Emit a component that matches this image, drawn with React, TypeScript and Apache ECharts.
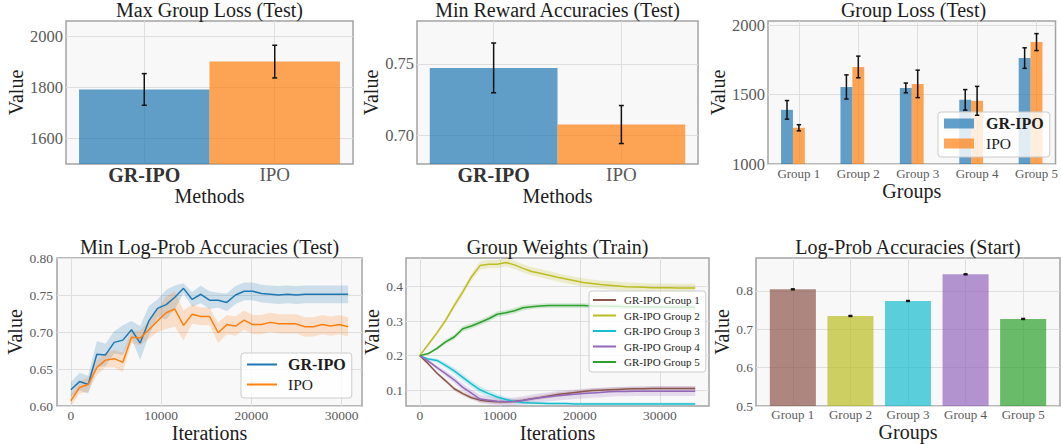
import React, { useEffect, useRef } from 'react';
import * as echarts from 'echarts';

const FONT = "'Liberation Serif', 'DejaVu Serif', serif";
const INK = '#1c1c1c';
const TICK_INK = '#5a5a5a';
const GRID_LINE = '#dedede';
const FRAME = '#a3a3a3';
const PLOT_BG = '#f8f8f8';

const BLUE = '#1f77b4';
const ORANGE = '#ff7f0e';
const GREEN = '#2ca02c';
const PURPLE = '#9467bd';
const BROWN = '#8c564b';
const OLIVE = '#bcbd22';
const CYAN = '#17becf';

// ---------- Panel 1: Max Group Loss (Test)
const methods = ['GR-IPO', 'IPO'];
const maxLossMean = [1792, 1901];
const maxLossErr = [62, 64];
const maxLossTicks = [1600, 1800, 2000];

// ---------- Panel 2: Min Reward Accuracies (Test)
const minRewardMean = [0.7472, 0.7076];
const minRewardErr = [0.0174, 0.0133];
const minRewardTicks = [0.7, 0.75];

// ---------- Panel 3: Group Loss (Test)
const groups = ['Group 1', 'Group 2', 'Group 3', 'Group 4', 'Group 5'];
const groupLossGR = [1390, 1555, 1548, 1462, 1763];
const groupLossGRErr = [67, 87, 35, 74, 74];
const groupLossIPO = [1261, 1699, 1577, 1455, 1878];
const groupLossIPOErr = [22, 78, 99, 104, 61];
const groupLossTicks = [1000, 1500, 2000];

// ---------- Panel 4: Min Log-Prob Accuracies (Test)
const evalIters = [0, 960, 1920, 2880, 3840, 4800, 5760, 6720, 7680, 8640, 9600, 10560, 11520, 12480, 13440, 14400, 15360, 16320, 17280, 18240, 19200, 20160, 21120, 22080, 23040, 24000, 24960, 25920, 26880, 27840, 28800, 29760, 30720];
const minLogProbGR = [0.622, 0.633, 0.629, 0.670, 0.669, 0.686, 0.689, 0.703, 0.685, 0.715, 0.732, 0.737, 0.747, 0.759, 0.744, 0.751, 0.743, 0.743, 0.740, 0.750, 0.755, 0.755, 0.752, 0.751, 0.750, 0.751, 0.750, 0.751, 0.751, 0.751, 0.751, 0.751, 0.751];
const minLogProbGRStd = [0.010, 0.012, 0.012, 0.018, 0.015, 0.015, 0.020, 0.012, 0.023, 0.020, 0.012, 0.020, 0.016, 0.007, 0.010, 0.012, 0.012, 0.010, 0.012, 0.012, 0.012, 0.012, 0.012, 0.012, 0.012, 0.012, 0.012, 0.012, 0.012, 0.012, 0.012, 0.012, 0.012];
const minLogProbIPO = [0.607, 0.625, 0.629, 0.652, 0.662, 0.664, 0.659, 0.693, 0.692, 0.703, 0.715, 0.726, 0.731, 0.709, 0.724, 0.721, 0.721, 0.699, 0.710, 0.708, 0.716, 0.710, 0.710, 0.713, 0.711, 0.711, 0.711, 0.707, 0.707, 0.710, 0.708, 0.710, 0.707];
const minLogProbIPOStd = [0.008, 0.008, 0.010, 0.010, 0.010, 0.012, 0.013, 0.008, 0.010, 0.012, 0.015, 0.022, 0.024, 0.020, 0.013, 0.012, 0.012, 0.014, 0.013, 0.013, 0.013, 0.013, 0.013, 0.013, 0.013, 0.013, 0.013, 0.013, 0.013, 0.013, 0.013, 0.013, 0.013];
const minLogProbTicks = [0.6, 0.65, 0.7, 0.75, 0.8];
const evalIterTicks = [0, 10000, 20000, 30000];

// ---------- Panel 5: Group Weights (Train)
const trainIters = [0, 1075, 2150, 3225, 4300, 5375, 6450, 7525, 8600, 9675, 10750, 11825, 12900, 13975, 15050, 16125, 17200, 18275, 19350, 20425, 21500, 22575, 23650, 24725, 25800, 26875, 27950, 29025, 30100, 31175, 32250, 33325, 34400];
const weightG1 = [0.200, 0.176, 0.149, 0.127, 0.104, 0.090, 0.078, 0.071, 0.068, 0.066, 0.066, 0.068, 0.071, 0.075, 0.079, 0.083, 0.087, 0.090, 0.093, 0.096, 0.099, 0.100, 0.101, 0.102, 0.103, 0.104, 0.104, 0.105, 0.105, 0.105, 0.105, 0.105, 0.105];
const weightG1Std = [0, 0.003, 0.004, 0.005, 0.006, 0.006, 0.006, 0.006, 0.006, 0.006, 0.006, 0.006, 0.006, 0.006, 0.006, 0.006, 0.006, 0.006, 0.006, 0.006, 0.006, 0.006, 0.006, 0.006, 0.006, 0.006, 0.006, 0.006, 0.006, 0.006, 0.006, 0.006, 0.006];
const weightG2 = [0.200, 0.233, 0.266, 0.302, 0.345, 0.385, 0.428, 0.461, 0.465, 0.465, 0.470, 0.463, 0.453, 0.444, 0.439, 0.433, 0.427, 0.422, 0.417, 0.412, 0.409, 0.406, 0.404, 0.402, 0.400, 0.399, 0.398, 0.397, 0.397, 0.397, 0.396, 0.396, 0.396];
const weightG2Std = [0, 0.004, 0.006, 0.008, 0.009, 0.010, 0.011, 0.012, 0.012, 0.012, 0.012, 0.012, 0.012, 0.012, 0.012, 0.012, 0.012, 0.012, 0.012, 0.012, 0.012, 0.012, 0.012, 0.012, 0.012, 0.012, 0.012, 0.012, 0.012, 0.012, 0.012, 0.012, 0.012];
const weightG3 = [0.200, 0.190, 0.186, 0.172, 0.156, 0.137, 0.118, 0.101, 0.090, 0.080, 0.073, 0.067, 0.064, 0.063, 0.062, 0.061, 0.061, 0.061, 0.060, 0.060, 0.060, 0.060, 0.060, 0.060, 0.060, 0.060, 0.060, 0.060, 0.060, 0.060, 0.060, 0.060, 0.060];
const weightG3Std = [0, 0.004, 0.006, 0.008, 0.009, 0.010, 0.010, 0.010, 0.009, 0.008, 0.007, 0.006, 0.005, 0.005, 0.004, 0.004, 0.004, 0.004, 0.004, 0.004, 0.004, 0.004, 0.004, 0.004, 0.004, 0.004, 0.004, 0.004, 0.004, 0.004, 0.004, 0.004, 0.004];
const weightG4 = [0.200, 0.184, 0.165, 0.148, 0.130, 0.108, 0.091, 0.074, 0.071, 0.068, 0.066, 0.067, 0.070, 0.074, 0.078, 0.081, 0.084, 0.086, 0.088, 0.090, 0.092, 0.093, 0.095, 0.096, 0.096, 0.097, 0.097, 0.097, 0.097, 0.097, 0.097, 0.097, 0.097];
const weightG4Std = [0, 0.004, 0.006, 0.008, 0.009, 0.010, 0.011, 0.012, 0.012, 0.012, 0.012, 0.012, 0.012, 0.013, 0.013, 0.013, 0.014, 0.014, 0.014, 0.014, 0.014, 0.014, 0.014, 0.014, 0.014, 0.014, 0.014, 0.014, 0.014, 0.014, 0.014, 0.014, 0.014];
const weightG5 = [0.200, 0.206, 0.221, 0.240, 0.254, 0.278, 0.286, 0.296, 0.307, 0.320, 0.324, 0.330, 0.339, 0.342, 0.344, 0.345, 0.345, 0.345, 0.345, 0.345, 0.344, 0.344, 0.343, 0.343, 0.342, 0.342, 0.341, 0.341, 0.341, 0.340, 0.340, 0.340, 0.340];
const weightG5Std = [0, 0.003, 0.005, 0.006, 0.007, 0.008, 0.008, 0.008, 0.008, 0.008, 0.008, 0.008, 0.008, 0.007, 0.007, 0.007, 0.007, 0.007, 0.007, 0.007, 0.007, 0.007, 0.007, 0.007, 0.007, 0.007, 0.007, 0.007, 0.007, 0.007, 0.007, 0.007, 0.007];
const weightTicks = [0.1, 0.2, 0.3, 0.4];
const trainIterTicks = [0, 10000, 20000, 30000];

// ---------- Panel 6: Log-Prob Accuracies (Start)
const startAcc = [0.8043, 0.7348, 0.7739, 0.8435, 0.727];
const startAccErr = [0.0012, 0.0012, 0.0012, 0.0012, 0.0012];
const startAccTicks = [0.5, 0.6, 0.7, 0.8];

function rgba(hex: string, a: number) {
  const n = parseInt(hex.slice(1), 16);
  return `rgba(${(n >> 16) & 255},${(n >> 8) & 255},${n & 255},${a})`;
}

function valAxis(gridIndex: number, min: number, max: number, ticks: number[], formatter: any, o: any) {
  return {
    type: 'value',
    gridIndex,
    min,
    max,
    axisLine: { show: false },
    axisTick: { show: false, customValues: ticks },
    axisLabel: {
      customValues: ticks,
      formatter,
      color: TICK_INK,
      fontFamily: FONT,
      fontSize: o.fontSize,
      margin: o.margin ?? 4,
      rich: o.rich,
    },
    splitLine: { show: true, lineStyle: { color: GRID_LINE, width: 1 } },
    name: o.name,
    nameLocation: 'middle',
    nameGap: o.nameGap,
    nameTextStyle: { fontFamily: FONT, fontSize: 20, color: INK },
  };
}

function bars(name: string, gi: number, xs: number[], ys: number[], width: number, colors: string[], base: number) {
  return {
    type: 'custom',
    name,
    xAxisIndex: gi,
    yAxisIndex: gi,
    clip: true,
    z: 2,
    data: xs.map((x, i) => [x, ys[i]]),
    encode: { x: 0, y: 1 },
    renderItem: (params: any, api: any) => {
      const x = api.value(0);
      const y = api.value(1);
      const tl = api.coord([x - width / 2, y]);
      const br = api.coord([x + width / 2, base]);
      return {
        type: 'rect',
        shape: { x: tl[0], y: tl[1], width: br[0] - tl[0], height: br[1] - tl[1] },
        style: { fill: colors[params.dataIndex % colors.length] },
      };
    },
  };
}

function errorBars(name: string, gi: number, xs: number[], ys: number[], errs: number[], cap: number) {
  return {
    type: 'custom',
    name,
    xAxisIndex: gi,
    yAxisIndex: gi,
    clip: true,
    z: 5,
    silent: true,
    data: xs.map((x, i) => [x, ys[i] - errs[i], ys[i] + errs[i]]),
    encode: { x: 0, y: [1, 2] },
    renderItem: (params: any, api: any) => {
      const x = api.value(0);
      const a = api.coord([x, api.value(1)]);
      const b = api.coord([x, api.value(2)]);
      const st = { stroke: '#111111', lineWidth: 1.5 };
      return {
        type: 'group',
        children: [
          { type: 'line', shape: { x1: a[0], y1: a[1], x2: b[0], y2: b[1] }, style: st },
          { type: 'line', shape: { x1: a[0] - cap, y1: a[1], x2: a[0] + cap, y2: a[1] }, style: st },
          { type: 'line', shape: { x1: b[0] - cap, y1: b[1], x2: b[0] + cap, y2: b[1] }, style: st },
        ],
      };
    },
  };
}

function band(name: string, gi: number, xs: number[], mean: number[], sd: number[], color: string, opacity: number) {
  const rows = xs.map((x, i) => [x, mean[i] - sd[i], mean[i] + sd[i]]);
  return {
    type: 'custom',
    name,
    xAxisIndex: gi,
    yAxisIndex: gi,
    clip: true,
    z: 1,
    silent: true,
    data: rows,
    encode: { x: 0, y: [1, 2] },
    renderItem: (params: any, api: any) => {
      if (params.dataIndex !== 0) return null;
      const top = rows.map((r) => api.coord([r[0], r[2]]));
      const bot = rows.map((r) => api.coord([r[0], r[1]])).reverse();
      return { type: 'polygon', shape: { points: top.concat(bot) }, style: { fill: rgba(color, opacity) } };
    },
  };
}

function line(name: string, gi: number, xs: number[], ys: number[], color: string) {
  return {
    type: 'line',
    name,
    xAxisIndex: gi,
    yAxisIndex: gi,
    data: xs.map((x, i) => [x, ys[i]]),
    showSymbol: false,
    symbol: 'none',
    clip: true,
    z: 3,
    lineStyle: { color, width: 1.5 },
    itemStyle: { color },
  };
}

function buildOption() {
  const gridBoxes = [
    { left: 66, top: 21, width: 287, height: 143 },
    { left: 417, top: 21, width: 281, height: 143 },
    { left: 768, top: 21, width: 291, height: 143 },
    { left: 57, top: 258, width: 305, height: 148 },
    { left: 406, top: 258, width: 303, height: 148 },
    { left: 756, top: 258, width: 304, height: 148 },
  ];
  const grid = gridBoxes.map((g) => ({
    ...g,
    show: true,
    backgroundColor: PLOT_BG,
    borderColor: FRAME,
    borderWidth: 1.5,
    containLabel: false,
  }));

  const methodRich = { b: { fontFamily: FONT, fontSize: 20, fontWeight: 'bold', color: '#333333' } };
  const methodFmt = (v: number) => {
    const m = methods[Math.round(v)];
    return m === 'GR-IPO' ? '{b|' + m + '}' : m;
  };
  const groupFmt = (v: number) => groups[Math.round(v)];
  const intFmt = (v: number) => String(Math.round(v));

  const methodPos = methods.map((_, i) => i);
  const groupPos = groups.map((_, i) => i);

  const xAxis = [
    valAxis(0, -0.6, 1.6, methodPos, methodFmt, { name: 'Methods', nameGap: 13, fontSize: 19, rich: methodRich, margin: 1 }),
    valAxis(1, -0.6, 1.6, methodPos, methodFmt, { name: 'Methods', nameGap: 13, fontSize: 19, rich: methodRich, margin: 1 }),
    valAxis(2, -0.52, 4.32, groupPos, groupFmt, { name: 'Groups', nameGap: 14, fontSize: 13, margin: 3 }),
    valAxis(3, -1536, 32256, evalIterTicks, intFmt, { name: 'Iterations', nameGap: 13, fontSize: 13.5, margin: 2 }),
    valAxis(4, -1720, 36120, trainIterTicks, intFmt, { name: 'Iterations', nameGap: 13, fontSize: 13.5, margin: 2 }),
    valAxis(5, -0.64, 4.64, groupPos, groupFmt, { name: 'Groups', nameGap: 12, fontSize: 13, margin: 2 }),
  ];
  const yAxis = [
    valAxis(0, 1500, 2060, maxLossTicks, intFmt, { name: 'Value', nameGap: 38, fontSize: 16.5, margin: 3 }),
    valAxis(1, 0.68, 0.78, minRewardTicks, (v: number) => v.toFixed(2), { name: 'Value', nameGap: 35, fontSize: 16.5, margin: 3 }),
    valAxis(2, 1000, 2030, groupLossTicks, intFmt, { name: 'Value', nameGap: 38, fontSize: 16.5, margin: 3 }),
    valAxis(3, 0.6, 0.8, minLogProbTicks, (v: number) => v.toFixed(2), { name: 'Value', nameGap: 30, fontSize: 13.5, margin: 4 }),
    valAxis(4, 0.054, 0.483, weightTicks, (v: number) => v.toFixed(1), { name: 'Value', nameGap: 21, fontSize: 13.5, margin: 3 }),
    valAxis(5, 0.5, 0.886, startAccTicks, (v: number) => v.toFixed(1), { name: 'Value', nameGap: 20, fontSize: 13.5, margin: 3 }),
  ];

  const titleSpec: [string, number, number][] = [
    ['Max Group Loss (Test)', 209.5, 0],
    ['Min Reward Accuracies (Test)', 557.5, 0],
    ['Group Loss (Test)', 913.5, 0],
    ['Min Log-Prob Accuracies (Test)', 209.5, 237],
    ['Group Weights (Train)', 557.5, 237],
    ['Log-Prob Accuracies (Start)', 908, 237],
  ];
  const title = titleSpec.map(([text, cx, top]) => ({
    text,
    left: cx,
    top,
    textAlign: 'center',
    padding: 0,
    textStyle: { fontFamily: FONT, fontSize: 20, fontWeight: 'normal', color: INK },
  }));

  const blueBar = rgba(BLUE, 0.7);
  const orangeBar = rgba(ORANGE, 0.7);
  const groupColors = [BROWN, OLIVE, CYAN, PURPLE, GREEN];

  const series: any[] = [
    // Panel 1
    bars('Max Group Loss', 0, methodPos, maxLossMean, 1, [blueBar, orangeBar], 1500),
    errorBars('Max Group Loss err', 0, methodPos, maxLossMean, maxLossErr, 2.5),
    // Panel 2
    bars('Min Reward Accuracies', 1, methodPos, minRewardMean, 1, [blueBar, orangeBar], 0.68),
    errorBars('Min Reward err', 1, methodPos, minRewardMean, minRewardErr, 2.5),
    // Panel 3
    bars('GR-IPO', 2, groupPos.map((p) => p - 0.2), groupLossGR, 0.2, [blueBar], 1000),
    bars('IPO', 2, groupPos, groupLossIPO, 0.2, [orangeBar], 1000),
    errorBars('GR-IPO err', 2, groupPos.map((p) => p - 0.2), groupLossGR, groupLossGRErr, 2.2),
    errorBars('IPO err', 2, groupPos, groupLossIPO, groupLossIPOErr, 2.2),
    // Panel 4
    band('GR-IPO band', 3, evalIters, minLogProbGR, minLogProbGRStd, BLUE, 0.2),
    band('IPO band', 3, evalIters, minLogProbIPO, minLogProbIPOStd, ORANGE, 0.2),
    line('GR-IPO', 3, evalIters, minLogProbGR, BLUE),
    line('IPO', 3, evalIters, minLogProbIPO, ORANGE),
    // Panel 5
    band('G1 band', 4, trainIters, weightG1, weightG1Std, BROWN, 0.2),
    band('G2 band', 4, trainIters, weightG2, weightG2Std, OLIVE, 0.2),
    band('G3 band', 4, trainIters, weightG3, weightG3Std, CYAN, 0.2),
    band('G4 band', 4, trainIters, weightG4, weightG4Std, PURPLE, 0.2),
    band('G5 band', 4, trainIters, weightG5, weightG5Std, GREEN, 0.2),
    line('GR-IPO Group 1', 4, trainIters, weightG1, BROWN),
    line('GR-IPO Group 2', 4, trainIters, weightG2, OLIVE),
    line('GR-IPO Group 3', 4, trainIters, weightG3, CYAN),
    line('GR-IPO Group 4', 4, trainIters, weightG4, PURPLE),
    line('GR-IPO Group 5', 4, trainIters, weightG5, GREEN),
    // Panel 6
    bars('Log-Prob Accuracies (Start)', 5, groupPos, startAcc, 0.8, groupColors.map((c) => rgba(c, 0.7)), 0.5),
    errorBars('Start err', 5, groupPos, startAcc, startAccErr, 2),
  ];

  const legendRich = {
    b: { fontFamily: FONT, fontSize: 16, fontWeight: 'bold', color: INK },
    n: { fontFamily: FONT, fontSize: 15.5, color: INK },
  };
  const methodLegendFmt = (n: string) => (n === 'GR-IPO' ? '{b|GR-IPO}' : '{n|' + n + '}');

  const legend = [
    {
      left: 938,
      top: 112,
      orient: 'vertical',
      backgroundColor: 'rgba(255,255,255,0.8)',
      borderColor: '#cccccc',
      borderWidth: 1,
      borderRadius: 3,
      padding: [3, 6, 5, 6],
      itemGap: 3,
      itemWidth: 30,
      itemHeight: 10,
      icon: 'rect',
      selectedMode: false,
      data: [
        { name: 'GR-IPO', itemStyle: { color: blueBar, borderWidth: 0 } },
        { name: 'IPO', itemStyle: { color: orangeBar, borderWidth: 0 } },
      ],
      formatter: methodLegendFmt,
      textStyle: { fontFamily: FONT, fontSize: 16, color: INK, lineHeight: 17, padding: [0, 0, 0, 7], rich: legendRich },
    },
    {
      left: 241,
      top: 353,
      orient: 'vertical',
      backgroundColor: 'rgba(255,255,255,0.8)',
      borderColor: '#cccccc',
      borderWidth: 1,
      borderRadius: 3,
      padding: [3, 6, 5, 6],
      itemGap: 3,
      itemWidth: 30,
      itemHeight: 2,
      icon: 'rect',
      selectedMode: false,
      data: [
        { name: 'GR-IPO', itemStyle: { color: BLUE, borderWidth: 0 } },
        { name: 'IPO', itemStyle: { color: ORANGE, borderWidth: 0 } },
      ],
      formatter: methodLegendFmt,
      textStyle: { fontFamily: FONT, fontSize: 16, color: INK, lineHeight: 17, padding: [0, 0, 0, 6], rich: legendRich },
    },
    {
      left: 589,
      top: 291,
      orient: 'vertical',
      backgroundColor: 'rgba(255,255,255,0.8)',
      borderColor: '#cccccc',
      borderWidth: 1,
      borderRadius: 3,
      padding: [3, 6, 4, 4],
      itemGap: 3.5,
      itemWidth: 23,
      itemHeight: 2,
      icon: 'rect',
      selectedMode: false,
      data: groupColors.map((c, i) => ({ name: 'GR-IPO ' + groups[i], itemStyle: { color: c, borderWidth: 0 } })),
      textStyle: { fontFamily: FONT, fontSize: 11, color: INK, lineHeight: 12, padding: [0, 0, 0, 3] },
    },
  ];

  return {
    animation: false,
    backgroundColor: '#ffffff',
    textStyle: { fontFamily: FONT },
    title,
    grid,
    xAxis,
    yAxis,
    legend,
    series,
  };
}

export default function App() {
  const ref = useRef<HTMLDivElement>(null);
  useEffect(() => {
    if (!ref.current) return;
    const chart = echarts.init(ref.current, null, { renderer: 'svg' });
    chart.setOption(buildOption() as any);
    return () => chart.dispose();
  }, []);
  return <div ref={ref} style={{ position: 'absolute', left: 0, top: 0, width: 1061, height: 444 }} />;
}
